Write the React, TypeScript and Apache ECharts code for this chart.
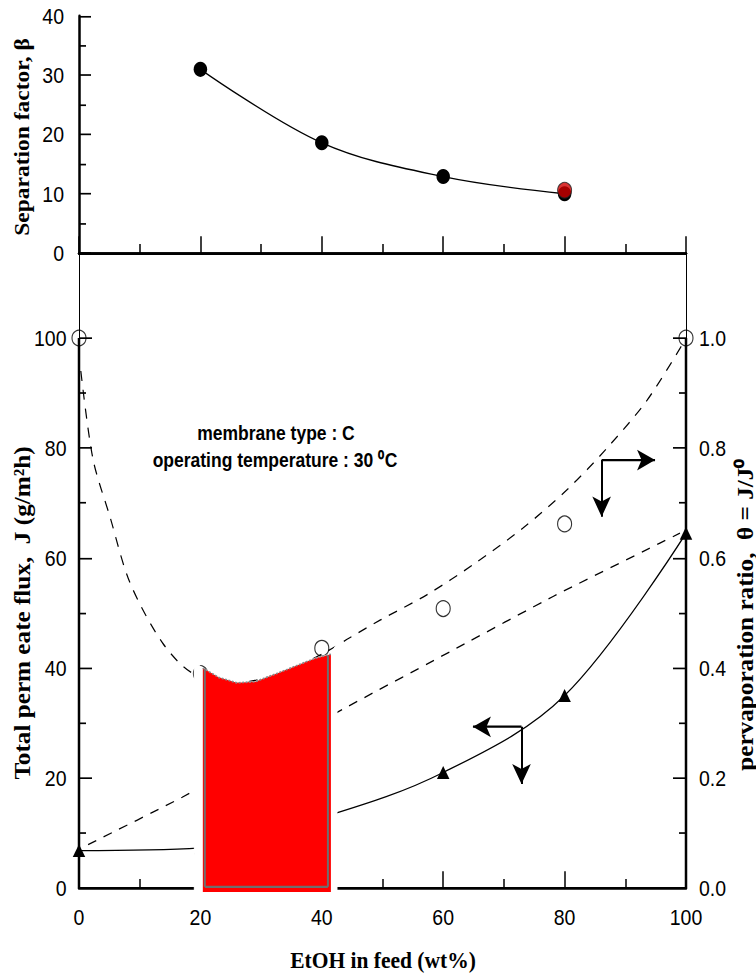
import React, { useEffect, useRef } from "react";
import * as echarts from "echarts";

// ---------- data ----------
const feedEtOH = [0, 20, 40, 60, 80, 100];
const betaFeed = [20, 40, 60, 80];
const betaValues = [31.0, 18.6, 12.9, 10.0];
const betaHighlight = [[80, 10.6]];
const fluxJ = [6.8, 7.3, 12.8, 21.0, 35.0, 64.5];
const thetaRatio = [1.0, 0.39, 0.436, 0.508, 0.662, 1.0];

// fitted curves
const thetaFitX = [0.3, 2.3, 5.1, 8.4, 13.8, 18.8, 26, 33, 40, 44.6, 49.6, 57.3, 65.2, 73.2, 80.4, 87, 93.6, 99.5];
const thetaFitY = [0.94, 0.78, 0.675, 0.555, 0.445, 0.39, 0.373, 0.39, 0.425, 0.455, 0.487, 0.533, 0.59, 0.655, 0.724, 0.8, 0.887, 0.99];
const lowerFitX = [1.5, 17, 44.3, 62.2, 78.1, 95.7, 99];
const lowerFitY = [0.079, 0.165, 0.33, 0.436, 0.53, 0.627, 0.645];

// axis ticks
const xTickStep = 20;
const betaTickStep = 10;
const fluxTicks = [0, 20, 40, 60, 80, 100];
const fluxMinorTicks = [10, 30, 50, 70, 90];
const thetaTicks = [0, 0.2, 0.4, 0.6, 0.8, 1.0];
const thetaMinorTicks = [0.1, 0.3, 0.5, 0.7, 0.9];
const fluxMax = 115.45;
const thetaMax = 1.1545;

// overlay (red block) profile
const redTopX = [20.4, 23, 26, 29, 32.6, 36, 39, 41.5];
const redTopY = [0.4, 0.383, 0.373, 0.375, 0.39, 0.405, 0.418, 0.425];
const maskX = [19.0, 42.5];
const maskTopTheta = [0.41, 0.445];

// arrows
const arrowFlux = { from: [72.9, 29.3], leftTo: 64.9, downTo: 18.9 };
const arrowTheta = { from: [86.1, 0.778], rightTo: 94.9, downTo: 0.675 };

// ---------- layout ----------
const W = 756;
const H = 869;
const SY = 973 / H;
const sy = (v: number) => v / SY;

const SANS = "'Liberation Sans', Arial, Helvetica, sans-serif";
const SERIF = "'Liberation Serif', 'Times New Roman', serif";
const LABEL_SIZE = 19.5;

const zip = (a: number[], b: number[]) => a.map((v, i) => [v, b[i]]);

export default function App() {
  const ref = useRef<HTMLDivElement>(null);

  useEffect(() => {
    if (!ref.current) return;
    const chart = echarts.init(ref.current, undefined, { renderer: "svg" });

    const black = "#000";
    const labelStyle = { color: black, fontSize: LABEL_SIZE, fontFamily: SANS };

    const option: any = {
      animation: false,
      backgroundColor: "#fff",
      grid: [
        { left: 79, right: 70, top: sy(16), height: sy(253) - sy(16) },
        { left: 79, right: 70, top: sy(253), bottom: H - sy(888) },
      ],
      xAxis: [
        {
          gridIndex: 0, type: "value", min: 0, max: 100, interval: xTickStep, position: "bottom",
          axisLine: { lineStyle: { color: black, width: 2.5 } },
          axisTick: { inside: true, length: 15, lineStyle: { color: black, width: 1.5 } },
          minorTick: { show: true, splitNumber: 2, length: 8, lineStyle: { color: black, width: 1.5 } },
          axisLabel: { show: false }, splitLine: { show: false },
        },
        {
          gridIndex: 0, type: "value", min: 0, max: 100, position: "top",
          axisLine: { lineStyle: { color: black, width: 2.5 } },
          axisTick: { show: false }, axisLabel: { show: false }, splitLine: { show: false },
        },
        {
          gridIndex: 1, type: "value", min: 0, max: 100, interval: xTickStep, position: "bottom",
          axisLine: { lineStyle: { color: black, width: 2.5 } },
          axisTick: { inside: true, length: 15, lineStyle: { color: black, width: 1.5 } },
          minorTick: { show: true, splitNumber: 2, length: 8, lineStyle: { color: black, width: 1.5 } },
          axisLabel: { ...labelStyle, margin: 16 }, splitLine: { show: false },
        },
      ],
      yAxis: [
        {
          gridIndex: 0, type: "value", min: 0, max: 40, interval: betaTickStep, position: "left",
          axisLine: { lineStyle: { color: black, width: 2.5 } },
          axisTick: { inside: true, length: 12, lineStyle: { color: black, width: 1.5 } },
          minorTick: { show: true, splitNumber: 2, length: 7, lineStyle: { color: black, width: 1.5 } },
          axisLabel: { ...labelStyle, margin: 15 }, splitLine: { show: false },
        },
        {
          gridIndex: 0, type: "value", min: 0, max: 40, position: "right",
          axisLine: { lineStyle: { color: black, width: 1 } },
          axisTick: { show: false }, axisLabel: { show: false }, splitLine: { show: false },
        },
        {
          gridIndex: 1, type: "value", min: 0, max: fluxMax, position: "left",
          axisLine: { lineStyle: { color: black, width: 1 } },
          axisTick: { inside: true, length: 13, customValues: fluxTicks, lineStyle: { color: black, width: 1.5 } },
          axisLabel: { ...labelStyle, margin: 12.5, customValues: fluxTicks }, splitLine: { show: false },
        },
        {
          gridIndex: 1, type: "value", min: 0, max: fluxMax, position: "left",
          axisLine: { show: false },
          axisTick: { inside: true, length: 7, customValues: fluxMinorTicks, lineStyle: { color: black, width: 1.5 } },
          axisLabel: { show: false }, splitLine: { show: false },
        },
        {
          gridIndex: 1, type: "value", min: 0, max: thetaMax, position: "right",
          axisLine: { lineStyle: { color: black, width: 1 } },
          axisTick: { inside: true, length: 13, customValues: thetaTicks, lineStyle: { color: black, width: 1.5 } },
          axisLabel: { ...labelStyle, margin: 13, customValues: thetaTicks, formatter: (v: number) => v.toFixed(1) },
          splitLine: { show: false },
        },
        {
          gridIndex: 1, type: "value", min: 0, max: thetaMax, position: "right",
          axisLine: { show: false },
          axisTick: { inside: true, length: 7, customValues: thetaMinorTicks, lineStyle: { color: black, width: 1.5 } },
          axisLabel: { show: false }, splitLine: { show: false },
        },
      ],
      series: [
        {
          type: "line", xAxisIndex: 0, yAxisIndex: 0, data: zip(betaFeed, betaValues),
          smooth: 0.35, symbol: "circle", symbolSize: 13.5, clip: false,
          itemStyle: { color: black }, lineStyle: { color: black, width: 1.2 }, z: 3,
        },
        {
          type: "scatter", xAxisIndex: 0, yAxisIndex: 0, data: betaHighlight,
          symbol: "circle", symbolSize: 14, clip: false,
          itemStyle: { color: "#d00000", borderColor: "#222", borderWidth: 1 }, z: 4,
        },
        {
          type: "line", xAxisIndex: 2, yAxisIndex: 2, data: zip(feedEtOH, fluxJ),
          smooth: 0.35, symbol: "triangle", symbolSize: [12.5, 11.5], clip: false,
          itemStyle: { color: black }, lineStyle: { color: black, width: 1.2 }, z: 3,
        },
        {
          type: "line", xAxisIndex: 2, yAxisIndex: 4, data: zip(thetaFitX, thetaFitY),
          smooth: 0.3, symbol: "none", clip: false,
          lineStyle: { color: black, width: 1.2, type: [9, 8] }, z: 2,
        },
        {
          type: "line", xAxisIndex: 2, yAxisIndex: 4, data: zip(lowerFitX, lowerFitY),
          smooth: 0.2, symbol: "none", clip: false,
          lineStyle: { color: black, width: 1.2, type: [9, 8] }, z: 2,
        },
        {
          type: "scatter", xAxisIndex: 2, yAxisIndex: 4, data: zip(feedEtOH, thetaRatio),
          symbol: "circle", symbolSize: 14, clip: false,
          itemStyle: { color: "rgba(0,0,0,0)", borderColor: black, borderWidth: 1.1 }, z: 3,
        },
        {
          type: "line", xAxisIndex: 2, yAxisIndex: 2, data: [[0, 0], [0, 100]],
          symbol: "none", clip: false, lineStyle: { color: black, width: 2.5 }, z: 2,
          markLine: {
            silent: true, symbol: ["none", "arrow"], symbolSize: [14, 18],
            label: { show: false },
            lineStyle: { color: black, width: 2, type: "solid" },
            data: [
              [{ coord: arrowFlux.from }, { coord: [arrowFlux.leftTo, arrowFlux.from[1]] }],
              [{ coord: arrowFlux.from }, { coord: [arrowFlux.from[0], arrowFlux.downTo] }],
            ],
          },
        },
        {
          type: "line", xAxisIndex: 2, yAxisIndex: 4, data: [[100, 0], [100, 1.0]],
          symbol: "none", clip: false, lineStyle: { color: black, width: 2.5 }, z: 2,
          markLine: {
            silent: true, symbol: ["none", "arrow"], symbolSize: [14, 18],
            label: { show: false },
            lineStyle: { color: black, width: 2, type: "solid" },
            data: [
              [{ coord: arrowTheta.from }, { coord: [arrowTheta.rightTo, arrowTheta.from[1]] }],
              [{ coord: arrowTheta.from }, { coord: [arrowTheta.from[0], arrowTheta.downTo] }],
            ],
          },
        },
        {
          type: "custom", xAxisIndex: 2, yAxisIndex: 4, data: [[0]], z: 10, silent: true,
          renderItem: (_params: any, api: any) => {
            const top = redTopX.map((x, i) => api.coord([x, redTopY[i]]));
            const axisY = api.coord([0, 0])[1];
            const mL = api.coord([maskX[0], maskTopTheta[0]]);
            const mR = api.coord([maskX[1], maskTopTheta[1]]);
            const first = top[0];
            const last = top[top.length - 1];
            const white = [[mL[0], mL[1]], ...top, [mR[0], mR[1]], [mR[0], axisY + 7], [mL[0], axisY + 7]];
            const red = [...top, [last[0], axisY + 3.5], [first[0], axisY + 3.5]];
            const gray = "#6e6e6e";
            return {
              type: "group",
              children: [
                { type: "polygon", shape: { points: white }, style: { fill: "#fff", stroke: "#fff", lineWidth: 1 } },
                { type: "polygon", shape: { points: red }, style: { fill: "#ff0000" } },
                { type: "line", shape: { x1: first[0] + 2, y1: first[1] + 1, x2: first[0] + 2, y2: axisY - 1 }, style: { stroke: gray, lineWidth: 2 } },
                { type: "line", shape: { x1: last[0] - 3, y1: last[1] + 1, x2: last[0] - 3, y2: axisY - 1 }, style: { stroke: gray, lineWidth: 2 } },
                { type: "line", shape: { x1: first[0] + 2, y1: axisY - 1, x2: last[0] - 3, y2: axisY - 1 }, style: { stroke: gray, lineWidth: 2 } },
                { type: "polyline", shape: { points: top }, style: { stroke: "#8a8a8a", lineWidth: 1.5, lineDash: [2, 1.5], fill: null } },
              ],
            };
          },
        },
      ],
      graphic: [
        {
          type: "text", x: 22, y: sy(137), rotation: Math.PI / 2, z: 20,
          style: { text: "Separation factor, β", fill: black, fontSize: 21, fontWeight: "bold", fontFamily: SERIF, align: "center", verticalAlign: "middle" },
        },
        {
          type: "text", x: 22, y: sy(613), rotation: Math.PI / 2, z: 20,
          style: { text: "Total perm eate flux,  J (g/m²h)", fill: black, fontSize: 22.5, fontWeight: "bold", fontFamily: SERIF, align: "center", verticalAlign: "middle" },
        },
        {
          type: "text", x: 745, y: sy(615), rotation: Math.PI / 2, z: 20,
          style: { text: "pervaporation ratio,  θ = J/J⁰", fill: black, fontSize: 22.5, fontWeight: "bold", fontFamily: SERIF, align: "center", verticalAlign: "middle" },
        },
        {
          type: "text", x: 383, y: sy(960), z: 20,
          style: { text: "EtOH in feed (wt%)", fill: black, fontSize: 21.5, fontWeight: "bold", fontFamily: SERIF, align: "center", verticalAlign: "middle" },
        },
        {
          type: "text", x: 276, y: sy(433), z: 20,
          style: { text: "membrane type : C", fill: black, fontSize: 17.5, fontWeight: "bold", fontFamily: SANS, align: "center", verticalAlign: "middle" },
        },
        {
          type: "text", x: 275, y: sy(460), z: 20,
          style: { text: "operating temperature : 30 ⁰C", fill: black, fontSize: 17.5, fontWeight: "bold", fontFamily: SANS, align: "center", verticalAlign: "middle" },
        },
      ],
    };

    chart.setOption(option);
    return () => chart.dispose();
  }, []);

  return (
    <div
      ref={ref}
      style={{
        position: "absolute",
        left: 0,
        top: 0,
        width: W,
        height: H,
        transform: `scaleY(${SY})`,
        transformOrigin: "0 0",
        background: "#fff",
      }}
    />
  );
}
